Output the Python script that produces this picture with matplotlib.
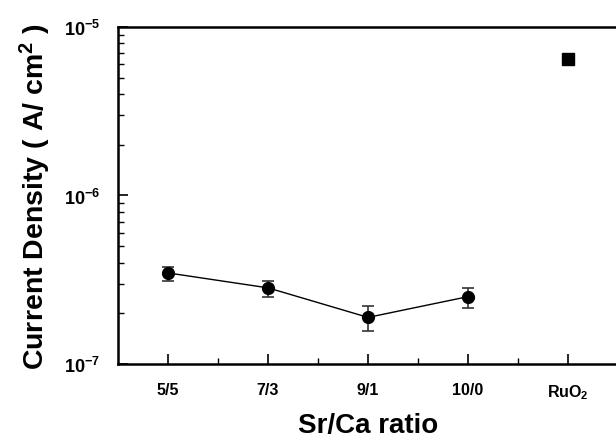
import numpy as np
import matplotlib.pyplot as plt
from matplotlib.ticker import LogLocator, NullFormatter, FixedLocator, FuncFormatter

plt.rcParams['font.family'] = ['Liberation Sans', 'DejaVu Sans']
plt.rcParams['font.weight'] = 'bold'
plt.rcParams['mathtext.fontset'] = 'custom'
plt.rcParams['mathtext.rm'] = 'Liberation Sans:bold'
plt.rcParams['mathtext.bf'] = 'Liberation Sans:bold'
plt.rcParams['mathtext.it'] = 'Liberation Sans:bold'

# data
labels = ['5/5', '7/3', '9/1', '10/0', 'RuO$_2$']
x_pos = [1, 2, 3, 4]
density = [3.47e-7, 2.83e-7, 1.89e-7, 2.51e-7]
err_low = [3.11e-7, 2.49e-7, 1.58e-7, 2.15e-7]
err_high = [3.77e-7, 3.12e-7, 2.22e-7, 2.83e-7]
ruo2_x = 5
ruo2_density = 6.45e-6

yerr = [[d - lo for d, lo in zip(density, err_low)],
        [hi - d for d, hi in zip(density, err_high)]]

fig = plt.figure(figsize=(6.16, 4.39), dpi=100)
ax = fig.add_axes([0.1916, 0.1686, 0.8117, 0.7677])

ax.errorbar(x_pos, density, yerr=yerr, fmt='o-', color='black', ecolor='#333333',
            elinewidth=1.2, capsize=4, capthick=1.2, markersize=8.5, linewidth=1)
ax.plot([ruo2_x], [ruo2_density], 's', color='black', markersize=8)

ax.set_yscale('log')
ax.set_ylim(1e-7, 1e-5)
ax.set_xlim(0.5, 5.5)

ax.xaxis.set_major_locator(FixedLocator(range(1, 6)))
ax.xaxis.set_minor_locator(FixedLocator([1.5, 2.5, 3.5, 4.5]))
ax.set_xticklabels(labels, fontsize=11.5, fontweight='bold')
ax.yaxis.set_major_locator(LogLocator(base=10, numticks=5))
ax.yaxis.set_major_formatter(FuncFormatter(lambda v, p: r'$10^{%d}$' % round(np.log10(v))))
ax.yaxis.set_minor_locator(LogLocator(base=10, subs=range(2, 10), numticks=20))
ax.yaxis.set_minor_formatter(NullFormatter())
for lab in ax.get_yticklabels():
    lab.set_fontsize(13)

ax.tick_params(which='major', direction='in', length=7, width=1.2)
ax.tick_params(axis='x', which='major', pad=13)
ax.tick_params(axis='y', which='major', pad=13)
ax.tick_params(which='minor', direction='in', length=4, width=1)

for side in ['left', 'bottom', 'top']:
    ax.spines[side].set_linewidth(1.8)
ax.spines['right'].set_visible(False)

ax.set_xlabel('Sr/Ca ratio', fontsize=20, fontweight='bold', labelpad=8)
ax.set_ylabel('Current Density ( A/ cm$^2$ )', fontsize=20.5, fontweight='bold', labelpad=8)

plt.savefig('out.png', dpi=100)
